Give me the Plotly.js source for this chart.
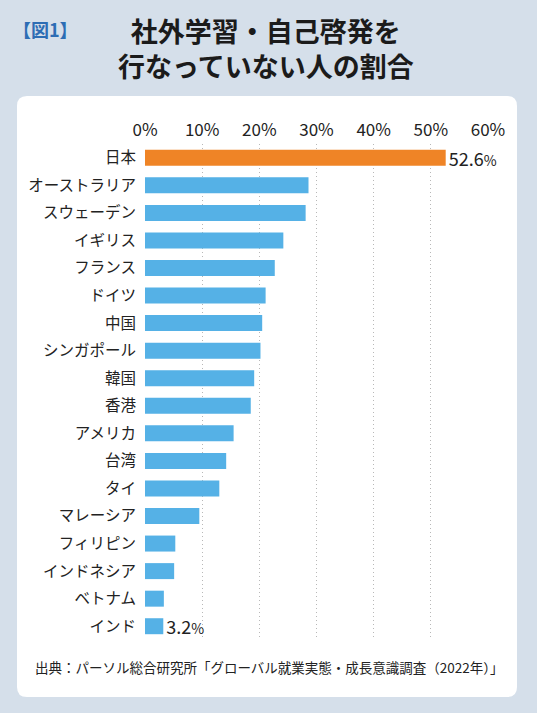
<!DOCTYPE html>
<html><head><meta charset="utf-8">
<script src="https://cdn.plot.ly/plotly-3.0.1.min.js"></script>
<style>html,body{margin:0;padding:0;background:#d5dfea;}#chart{width:537px;height:713px;}</style>
</head><body><div id="chart"></div>
<script>
const countries = ["日本","オーストラリア","スウェーデン","イギリス","フランス","ドイツ","中国","シンガポール","韓国","香港","アメリカ","台湾","タイ","マレーシア","フィリピン","インドネシア","ベトナム","インド"];
const values = [52.6,28.6,28.1,24.2,22.7,21.1,20.5,20.2,19.1,18.5,15.5,14.2,13.0,9.5,5.3,5.1,3.3,3.2];
const labelled = ["日本","インド"];
const tickVals = [0,10,20,30,40,50,60];
const tickText = ["0%","10%","20%","30%","40%","50%","60%"];
const titleLine1 = "社外学習・自己啓発を";
const titleLine2 = "行なっていない人の割合";
const figLabel = "【図1】";
const sourceText = "出典：パーソル総合研究所「グローバル就業実態・成長意識調査（2022年）」";

const W = 537, H = 713, ML = 145, MR = 49, MT = 144, MB = 73;
const PW = W - ML - MR, PH = H - MT - MB;
const px = x => (x - ML) / PW;
const py = y => 1 - (y - MT) / PH;

const colors = countries.map(c => c === "日本" ? "#ef8426" : "#55b1e6");
const texts = countries.map((c, i) => labelled.includes(c) ? values[i].toFixed(1) + "<span style='font-size:14px'>%</span>" : "");

function roundRect(x0, y0, x1, y1, r) {
  const X = v => px(v).toFixed(5), Y = v => py(v).toFixed(5);
  return `M ${X(x0 + r)} ${Y(y0)} L ${X(x1 - r)} ${Y(y0)} Q ${X(x1)} ${Y(y0)} ${X(x1)} ${Y(y0 + r)} ` +
    `L ${X(x1)} ${Y(y1 - r)} Q ${X(x1)} ${Y(y1)} ${X(x1 - r)} ${Y(y1)} L ${X(x0 + r)} ${Y(y1)} ` +
    `Q ${X(x0)} ${Y(y1)} ${X(x0)} ${Y(y1 - r)} L ${X(x0)} ${Y(y0 + r)} Q ${X(x0)} ${Y(y0)} ${X(x0 + r)} ${Y(y0)} Z`;
}

const FONT = "'Noto Sans CJK JP', 'Noto Sans', sans-serif";
const trace = {
  type: "bar", orientation: "h",
  x: values, y: countries,
  marker: {color: colors, line: {width: 0}},
  text: texts, textposition: "outside", cliponaxis: false, constraintext: "none",
  textfont: {family: FONT, size: 18, color: "#222"},
  hoverinfo: "skip"
};

const layout = {
  width: W, height: H,
  margin: {l: ML, r: MR, t: MT, b: MB, pad: 0},
  paper_bgcolor: "#d5dfea", plot_bgcolor: "rgba(0,0,0,0)",
  font: {family: FONT, color: "#222"},
  bargap: 0.42, showlegend: false,
  xaxis: {
    side: "top", range: [0, 60], tickvals: tickVals, ticktext: tickText,
    showgrid: true, gridcolor: "#b8b8b8", griddash: "1px,3px", gridwidth: 1,
    zeroline: false, showline: false, ticks: "", ticklabelstandoff: 4,
    tickfont: {family: FONT, size: 17, color: "#222"}, fixedrange: true
  },
  yaxis: {
    autorange: "reversed", showgrid: false, zeroline: false, showline: false,
    ticks: "", ticklabelstandoff: 8,
    tickfont: {family: FONT, size: 15.5, color: "#222"}, fixedrange: true
  },
  shapes: [{
    type: "path", xref: "paper", yref: "paper", layer: "below",
    path: roundRect(17, 96, 517, 697, 10),
    fillcolor: "#ffffff", line: {width: 0}
  }],
  annotations: [
    {text: figLabel, xref: "paper", yref: "paper", x: px(11), y: py(29), xanchor: "left", yanchor: "middle",
     showarrow: false, font: {family: FONT, size: 18, color: "#2d6db4", weight: "bold"}},
    {text: titleLine1 + "<br>" + titleLine2, xref: "paper", yref: "paper", x: px(266), y: py(48), xanchor: "center", yanchor: "middle",
     showarrow: false, align: "center", font: {family: FONT, size: 27, color: "#1b1b1b", weight: "bold"}},
    {text: sourceText, xref: "paper", yref: "paper", x: px(33), y: py(667), xanchor: "left", yanchor: "middle",
     showarrow: false, font: {family: FONT, size: 13.5, color: "#222"}}
  ]
};

Plotly.newPlot("chart", [trace], layout, {staticPlot: true, displayModeBar: false});
</script></body></html>
